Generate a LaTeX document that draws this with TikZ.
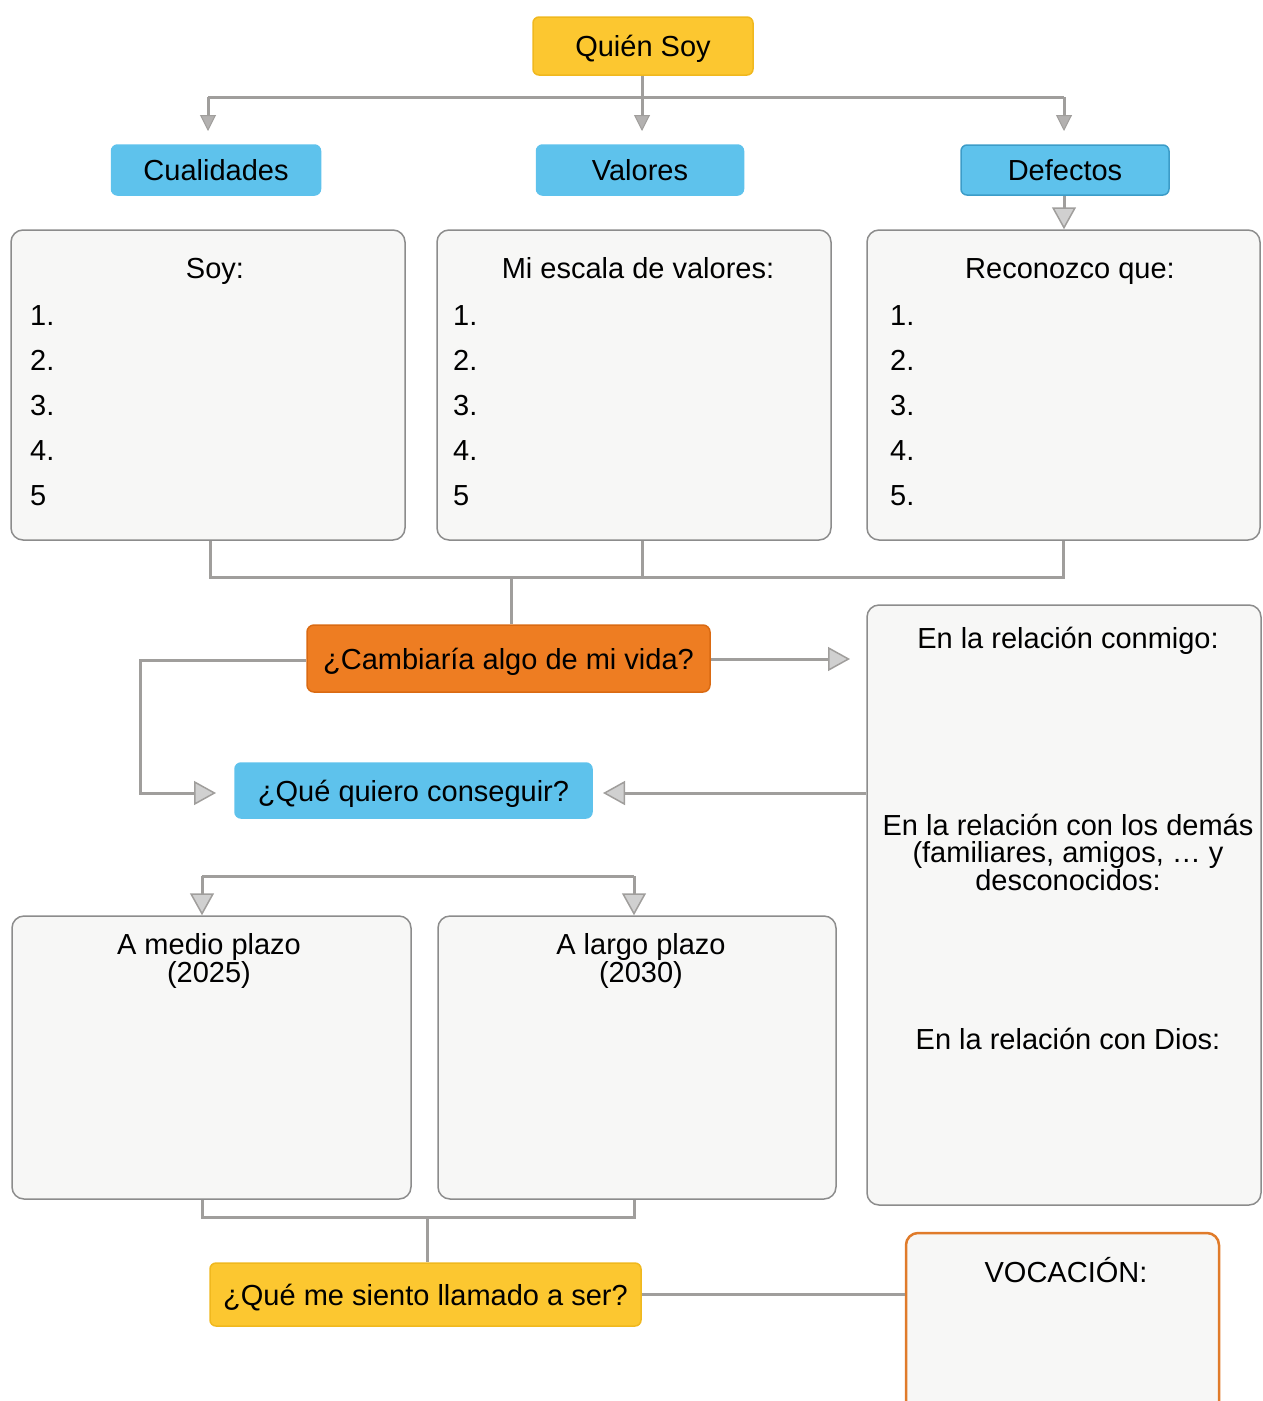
\documentclass[tikz,border=0pt]{standalone}
\usepackage{fontspec}
\setmainfont{Liberation Sans}
\usetikzlibrary{arrows.meta,positioning,calc}
\definecolor{linegray}{RGB}{160,158,156}
\definecolor{tipfill}{RGB}{208,208,208}
\definecolor{boxborder}{RGB}{140,140,140}
\definecolor{boxfill}{RGB}{247,247,246}
\definecolor{yellowfill}{RGB}{252,199,48}
\definecolor{yellowborder}{RGB}{240,184,30}
\definecolor{bluefill}{RGB}{94,194,236}
\definecolor{blueborder}{RGB}{60,156,200}
\definecolor{orangefill}{RGB}{238,125,34}
\definecolor{orangeborder}{RGB}{218,106,18}
\definecolor{vocborder}{RGB}{224,123,42}
\tikzset{
  txt/.style={font=\fontsize{29}{27}\selectfont, text=black},
  one/.style={txt, text height=21pt, text depth=0pt},
  whitebox/.style={draw=boxborder, line width=1.5pt, fill=boxfill, rounded corners=12pt, inner sep=0pt},
  ybox/.style={one, fill=yellowfill, draw=yellowborder, line width=1.5pt, rounded corners=6pt, inner sep=0pt},
  bbox/.style={one, fill=bluefill, draw=bluefill, line width=1.5pt, rounded corners=6pt, inner sep=0pt},
  obox/.style={one, fill=orangefill, draw=orangeborder, line width=1.5pt, rounded corners=7pt, inner sep=0pt},
  conn/.style={draw=linegray, line width=3pt},
  bigtip/.style={-{Triangle[length=22pt,width=24pt,fill=tipfill,line width=1.5pt]}},
  smalltip/.style={-{Triangle[length=16pt,width=16pt,fill=linegray!80,line width=1pt]}},
}
\begin{document}
\begin{tikzpicture}[x=1pt,y=-1pt]
\useasboundingbox (0,0) rectangle (1263,1401);

% top-level nodes
\node[ybox, minimum width=220pt, minimum height=58pt] (quien) at (643,46) {Quién Soy};
\node[bbox, minimum width=209pt, minimum height=50pt] (cual) at (216,170) {Cualidades};
\node[bbox, minimum width=207pt, minimum height=50pt] (val) at (640,170) {Valores};
\node[bbox, draw=blueborder, minimum width=208pt, minimum height=50pt] (def) at (1065,170) {Defectos};

% three list boxes
\node[whitebox, minimum width=394pt, minimum height=310pt] (soy) at (208,385) {};
\node[whitebox, minimum width=394pt, minimum height=310pt] (esc) at (634,385) {};
\node[whitebox, minimum width=393pt, minimum height=310pt] (rec) at (1063.5,385) {};

\node[one] (soyt) at (215,268) {Soy:};
\node[one] (esct) at (638,268) {Mi escala de valores:};
\node[one] (rect) at (1070,268) {Reconozco que:};

\foreach \i/\y/\l in {1/315/1.,2/360/2.,3/405/3.,4/450/4.,5/495/5} {
  \node[one, anchor=west, inner sep=0pt] (soyn\i) at (30,\y) {\l};
  \node[one, anchor=west, inner sep=0pt] (escn\i) at (453,\y) {\l};
}
\foreach \i/\y/\l in {1/315/1.,2/360/2.,3/405/3.,4/450/4.,5/495/5.} {
  \node[one, anchor=west, inner sep=0pt] (recn\i) at (890,\y) {\l};
}

% middle
\node[obox, minimum width=403pt, minimum height=67pt] (camb) at (508.5,658.5) {¿Cambiaría algo de mi vida?};
\node[bbox, minimum width=357pt, minimum height=55pt] (quiero) at (413.5,790.5) {¿Qué quiero conseguir?};

\node[whitebox, minimum width=394pt, minimum height=600pt] (rel) at (1064,905) {};
\node[one] (rel1) at (1068,638) {En la relación conmigo:};
\node[txt, align=center] (rel2) at (1068,852) {En la relación con los demás\\(familiares, amigos, … y\\desconocidos:};
\node[one] (rel3) at (1068,1039) {En la relación con Dios:};

% plazo boxes
\node[whitebox, minimum width=399pt, minimum height=283pt] (medio) at (211.5,1057.5) {};
\node[whitebox, minimum width=398pt, minimum height=283pt] (largo) at (637,1057.5) {};
\node[txt, align=center] (mediot) at (209,961) {A medio plazo\\(2025)};
\node[txt, align=center] (largot) at (641,961) {A largo plazo\\(2030)};

% bottom
\node[ybox, minimum width=431pt, minimum height=63pt] (llam) at (425.5,1294.5) {¿Qué me siento llamado a ser?};
\begin{scope}
\clip (0,0) rectangle (1263,1401);
\node[draw=vocborder, line width=2.5pt, fill=boxfill, rounded corners=12pt, inner sep=0pt,
      minimum width=313pt, minimum height=190pt] (voc) at (1062.5,1328) {};
\end{scope}
\node[one] (voct) at (1066,1272) {VOCACIÓN:};

% coordinates for junctions
\coordinate (j1) at (642,97);
\coordinate (j1l) at (208,97);
\coordinate (j1r) at (1064,97);
\coordinate (a1) at (208,131);
\coordinate (a2) at (642,131);
\coordinate (a3) at (1064,131);

% connectors top
\draw[conn, smalltip] (quien.south -| j1) -- (a2);
\draw[conn, smalltip] (j1l) -- (a1);
\draw[conn, smalltip] (j1r) -- (a3);
\draw[conn] (j1l) -- (j1r);
\draw[conn, bigtip] (def.south -| a3) -- (rec.north -| a3);

% connectors under list boxes
\coordinate (b1) at (210,577);
\coordinate (b2) at (642,577);
\coordinate (b3) at (1063,577);
\coordinate (b4) at (511,577);
\draw[conn] (soy.south -| b1) -- (b1) -- (b3) -- (rec.south -| b3);
\draw[conn] (esc.south -| b2) -- (b2);
\draw[conn] (b4) -- (camb.north -| b4);

% around cambiaria
\coordinate (c1) at (850,659);
\draw[conn, bigtip] (camb.east |- c1) -- (c1);
\coordinate (c2) at (140,660);
\coordinate (c3) at (140,793);
\coordinate (c4) at (216,793);
\draw[conn, bigtip] (camb.west |- c2) -- (c2) -- (c3) -- (c4);
\coordinate (c5) at (603,793);
\draw[conn, bigtip] (rel.west |- c5) -- (c5);

% plazo arrows
\coordinate (d1) at (202,876);
\coordinate (d2) at (634,876);
\draw[conn, bigtip] (d1) -- (medio.north -| d1);
\draw[conn, bigtip] (d2) -- (largo.north -| d2);
\draw[conn] (d1) -- (d2);

% bottom connectors
\coordinate (e1) at (202,1217);
\coordinate (e2) at (634,1217);
\coordinate (e3) at (427,1217);
\draw[conn] (medio.south -| e1) -- (e1) -- (e2) -- (largo.south -| e2);
\draw[conn] (e3) -- (llam.north -| e3);
\draw[conn] (llam.east) -- (voc.west |- llam.east);
\end{tikzpicture}
\end{document}
